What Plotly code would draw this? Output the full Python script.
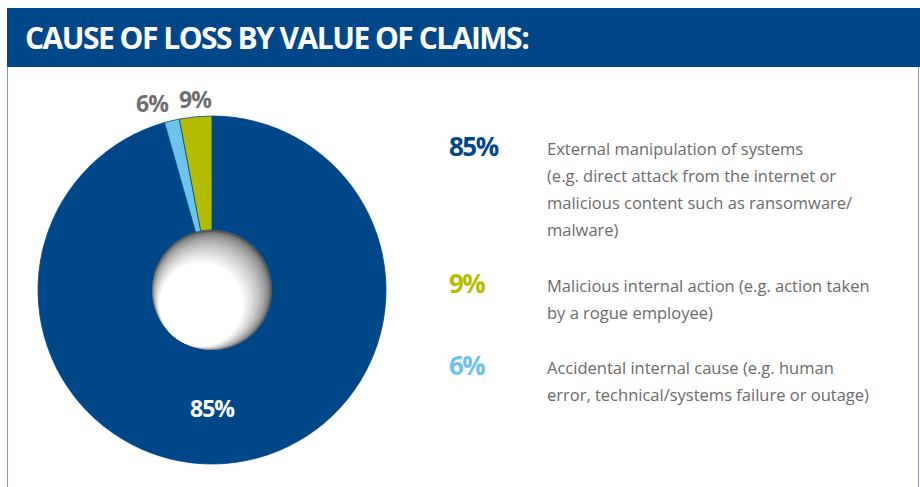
import plotly.graph_objects as go
import numpy as np

# ---- data ----
categories = ["External manipulation of systems",
              "Accidental internal cause",
              "Malicious internal action"]
slice_values = [95.6, 1.4, 3.0]          # slice sizes as drawn
pct_labels = ["85%", "6%", "9%"]
slice_colors = ["#00478A", "#6DC3E8", "#B4BC00"]

legend_pcts = ["85%", "9%", "6%"]
legend_colors = ["#00478A", "#B4BC00", "#6DC3E8"]
legend_lines = [
    ["External manipulation of systems",
     "(e.g. direct attack from the internet or",
     "malicious content such as ransomware/",
     "malware)"],
    ["Malicious internal action (e.g. action taken",
     "by a rogue employee)"],
    ["Accidental internal cause (e.g. human",
     "error, technical/systems failure or outage)"],
]
title = "CAUSE OF LOSS BY VALUE OF CLAIMS:"

W, H = 920, 487
CX, CY, R = 212, 290, 174
HOLE = 0.345
BOLD = "Open Sans"


def cond(txt, ls):
    return f'<span style="letter-spacing:{ls}px"><b>{txt}</b></span>'


fig = go.Figure()
# invisible cartesian trace to create pixel-scaled axes
fig.add_trace(go.Scatter(x=[0, W], y=[0, H], mode="markers", marker=dict(opacity=0),
                         hoverinfo="skip", showlegend=False))
fig.add_trace(go.Pie(
    labels=categories, values=slice_values, sort=False,
    direction="clockwise", rotation=0, hole=HOLE,
    marker=dict(colors=slice_colors, line=dict(color="#00478A", width=0.8)),
    textinfo="none", hoverinfo="label+percent", showlegend=False,
    domain=dict(x=[(CX - R) / W, (CX + R) / W],
                y=[(H - CY - R) / H, (H - CY + R) / H]),
))

shapes = []
# header bar
shapes.append(dict(type="rect", xref="x", yref="y", x0=7, x1=920, y0=8, y1=67,
                   fillcolor="#00478A", line=dict(width=0), layer="above"))
# side borders
for x in (7.5, 918.5):
    shapes.append(dict(type="line", xref="x", yref="y", x0=x, x1=x, y0=67, y1=487,
                       line=dict(color="#7E9CC4", width=1), layer="above"))

# shaded hole
r_hole = R * HOLE
u = np.array([-0.6, 0.8])
n = 18
for i in range(n):
    t = i / (n - 1)
    r = r_hole * (1 - 0.3 * t)
    c = np.array([CX, CY]) + (r_hole - r) * u
    g = int(85 + (255 - 85) * (t ** 0.55))
    col = f"rgb({g},{g},{g})"
    shapes.append(dict(type="circle", xref="x", yref="y",
                       x0=c[0] - r, x1=c[0] + r, y0=c[1] - r, y1=c[1] + r,
                       fillcolor=col, line=dict(width=0), layer="above"))

ann = []
ann.append(dict(x=23, y=37, xref="x", yref="y", text=cond(title, -1.5), showarrow=False,
                xanchor="left", yanchor="middle",
                font=dict(family=BOLD, size=30, color="white")))
# slice labels
label_pos = [(212, 408, "white"), (152, 103, "#6E6E6E"), (195, 99, "#6E6E6E")]
for txt, (x, y, col) in zip(pct_labels, label_pos):
    ann.append(dict(x=x, y=y, xref="x", yref="y", text=cond(txt, -1), showarrow=False,
                    xanchor="center", yanchor="middle",
                    font=dict(family=BOLD, size=23, color=col)))
# right legend
block_y = [146, 283, 365]
for pct, col, lines, y0 in zip(legend_pcts, legend_colors, legend_lines, block_y):
    ann.append(dict(x=447, y=y0, xref="x", yref="y", text=cond(pct, -1.5), showarrow=False,
                    xanchor="left", yanchor="middle",
                    font=dict(family=BOLD, size=26, color=col)))
    for k, line in enumerate(lines):
        ann.append(dict(x=545, y=y0 + 2 + 27 * k, xref="x", yref="y", text=line,
                        showarrow=False, xanchor="left", yanchor="middle",
                        font=dict(family="Open Sans", size=16.5, color="#6B6B6B")))

fig.update_layout(
    width=W, height=H, margin=dict(l=0, r=0, t=0, b=0),
    paper_bgcolor="white", plot_bgcolor="rgba(0,0,0,0)",
    xaxis=dict(range=[0, W], visible=False, fixedrange=True),
    yaxis=dict(range=[H, 0], visible=False, fixedrange=True),
    shapes=shapes, annotations=ann,
)
fig.write_html("out.html", config={"displayModeBar": False})

# remove default page margin so the figure sits at the window's top-left corner
with open("out.html", encoding="utf-8") as f:
    html = f.read()
html = html.replace("<head>", "<head><style>html,body{margin:0;padding:0;overflow:hidden;}</style>", 1)
with open("out.html", "w", encoding="utf-8") as f:
    f.write(html)
